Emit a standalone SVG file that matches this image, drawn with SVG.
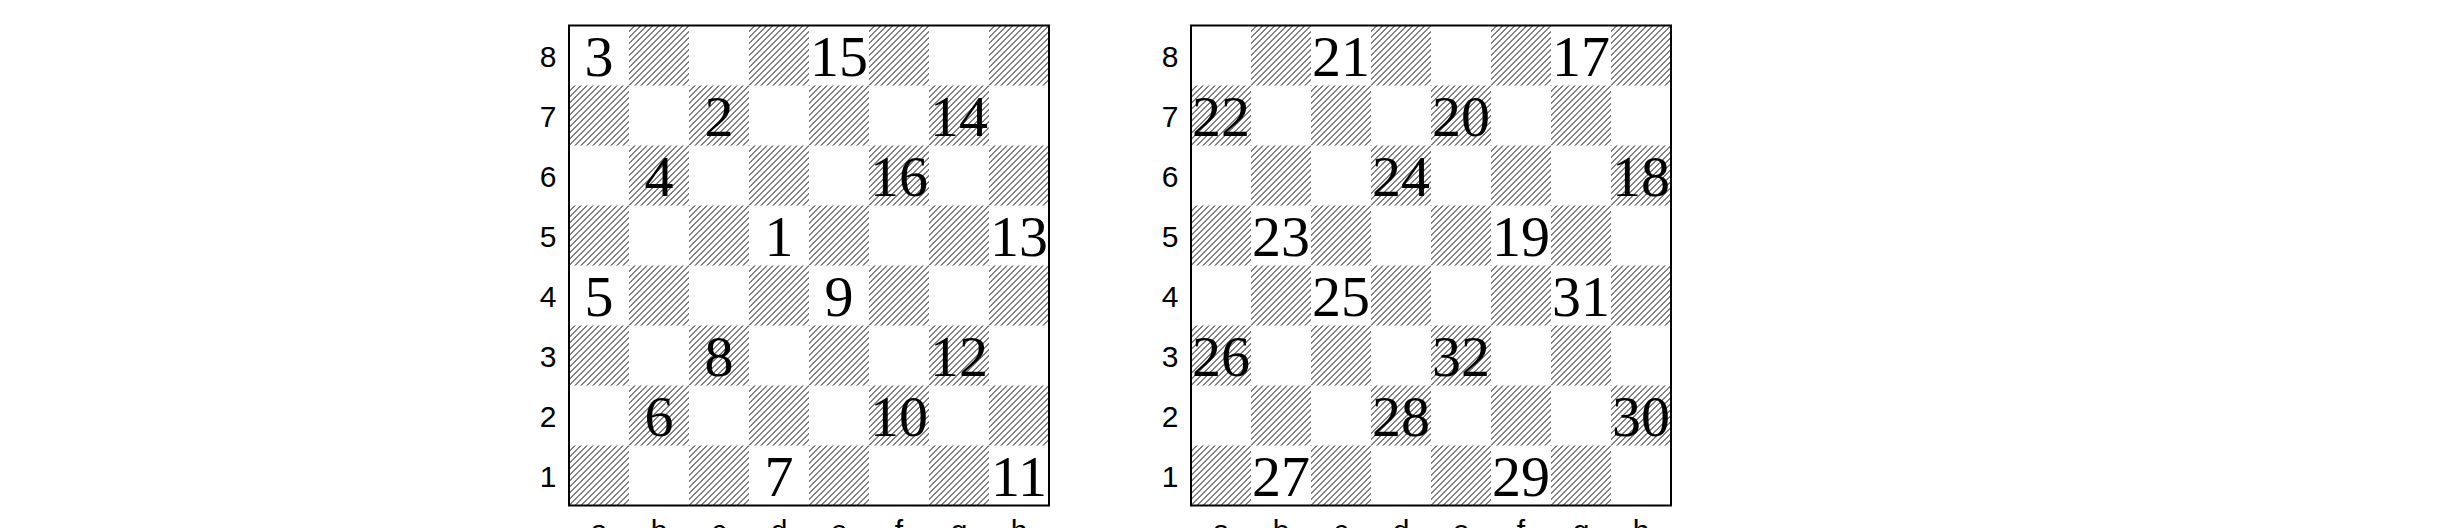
<svg xmlns="http://www.w3.org/2000/svg" xmlns:xlink="http://www.w3.org/1999/xlink" width="2448" height="528" viewBox="0 0 2448 528">
<defs>
<pattern id="hatch" patternUnits="userSpaceOnUse" width="6" height="6">
<path d="M0,6 L6,0 M-1,1 L1,-1 M5,7 L7,5" stroke="#000" stroke-width="1.1" fill="none" shape-rendering="crispEdges"/>
</pattern>
<path id="dark" d="M60,0h60v60h-60z M180,0h60v60h-60z M300,0h60v60h-60z M420,0h60v60h-60z
M0,60h60v60h-60z M120,60h60v60h-60z M240,60h60v60h-60z M360,60h60v60h-60z
M60,120h60v60h-60z M180,120h60v60h-60z M300,120h60v60h-60z M420,120h60v60h-60z
M0,180h60v60h-60z M120,180h60v60h-60z M240,180h60v60h-60z M360,180h60v60h-60z
M60,240h60v60h-60z M180,240h60v60h-60z M300,240h60v60h-60z M420,240h60v60h-60z
M0,300h60v60h-60z M120,300h60v60h-60z M240,300h60v60h-60z M360,300h60v60h-60z
M60,360h60v60h-60z M180,360h60v60h-60z M300,360h60v60h-60z M420,360h60v60h-60z
M0,420h60v60h-60z M120,420h60v60h-60z M240,420h60v60h-60z M360,420h60v60h-60z" fill="url(#hatch)"/>
<g id="labels" font-family="'Liberation Sans', Arial, sans-serif" font-size="30" text-anchor="middle" fill="#000">
<text x="-21" y="41">8</text>
<text x="-21" y="101">7</text>
<text x="-21" y="161">6</text>
<text x="-21" y="221">5</text>
<text x="-21" y="281">4</text>
<text x="-21" y="341">3</text>
<text x="-21" y="401">2</text>
<text x="-21" y="461">1</text>
<text x="30" y="515">a</text>
<text x="90" y="515">b</text>
<text x="150" y="515">c</text>
<text x="210" y="515">d</text>
<text x="270" y="515">e</text>
<text x="330" y="515">f</text>
<text x="390" y="515">g</text>
<text x="450" y="515">h</text>
</g>
</defs>
<style>
.num { font-family: 'Liberation Serif', 'Times New Roman', serif; font-size: 58px; text-anchor: middle; fill: #000; }
.frame { fill: none; stroke: #000; stroke-width: 2; }
</style>
<rect width="2448" height="528" fill="#fff"/>
<g id="board1" transform="translate(569,25.5)">
<use xlink:href="#dark"/>
<rect class="frame" x="0" y="0" width="480" height="480"/>
<use xlink:href="#labels"/>
<text class="num" x="30" y="50">3</text>
<text class="num" x="270" y="50">15</text>
<text class="num" x="150" y="110">2</text>
<text class="num" x="390" y="110">14</text>
<text class="num" x="90" y="170">4</text>
<text class="num" x="330" y="170">16</text>
<text class="num" x="210" y="230">1</text>
<text class="num" x="450" y="230">13</text>
<text class="num" x="30" y="290">5</text>
<text class="num" x="270" y="290">9</text>
<text class="num" x="150" y="350">8</text>
<text class="num" x="390" y="350">12</text>
<text class="num" x="90" y="410">6</text>
<text class="num" x="330" y="410">10</text>
<text class="num" x="210" y="470">7</text>
<text class="num" x="450" y="470">11</text>
</g>
<g id="board2" transform="translate(1191,25.5)">
<use xlink:href="#dark"/>
<rect class="frame" x="0" y="0" width="480" height="480"/>
<use xlink:href="#labels"/>
<text class="num" x="150" y="50">21</text>
<text class="num" x="390" y="50">17</text>
<text class="num" x="30" y="110">22</text>
<text class="num" x="270" y="110">20</text>
<text class="num" x="210" y="170">24</text>
<text class="num" x="450" y="170">18</text>
<text class="num" x="90" y="230">23</text>
<text class="num" x="330" y="230">19</text>
<text class="num" x="150" y="290">25</text>
<text class="num" x="390" y="290">31</text>
<text class="num" x="30" y="350">26</text>
<text class="num" x="270" y="350">32</text>
<text class="num" x="210" y="410">28</text>
<text class="num" x="450" y="410">30</text>
<text class="num" x="90" y="470">27</text>
<text class="num" x="330" y="470">29</text>
</g>
</svg>
